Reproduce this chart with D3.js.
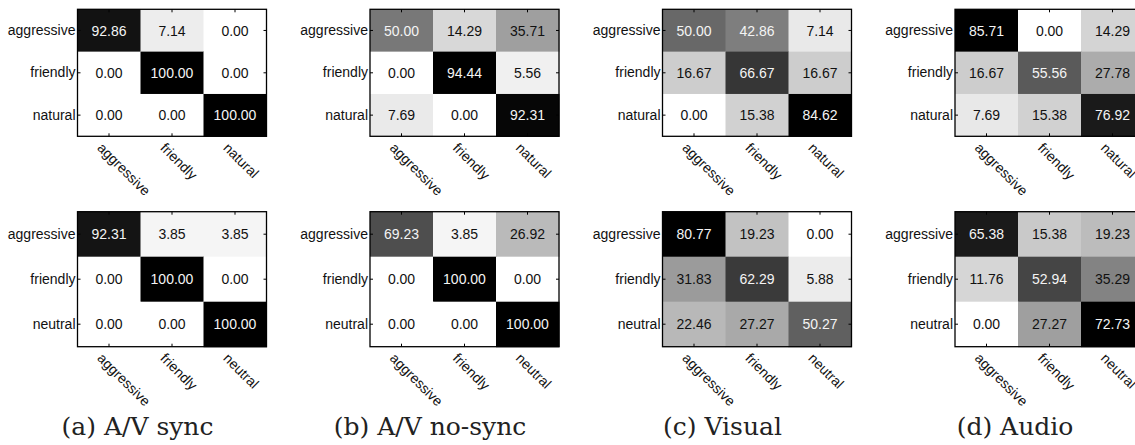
<!DOCTYPE html>
<html>
<head>
<meta charset="utf-8">
<script src="https://cdn.jsdelivr.net/npm/d3@7"></script>
<style>
html,body{margin:0;padding:0;background:#fff;}
svg{display:block;}
</style>
</head>
<body>
<svg id="chart" width="1135" height="445"></svg>
<script>
// ---- data ----
const topLabels = ["aggressive", "friendly", "natural"];
const bottomLabels = ["aggressive", "friendly", "neutral"];

const avSyncTop = [[92.86, 7.14, 0.00], [0.00, 100.00, 0.00], [0.00, 0.00, 100.00]];
const avSyncBottom = [[92.31, 3.85, 3.85], [0.00, 100.00, 0.00], [0.00, 0.00, 100.00]];
const avNoSyncTop = [[50.00, 14.29, 35.71], [0.00, 94.44, 5.56], [7.69, 0.00, 92.31]];
const avNoSyncBottom = [[69.23, 3.85, 26.92], [0.00, 100.00, 0.00], [0.00, 0.00, 100.00]];
const visualTop = [[50.00, 42.86, 7.14], [16.67, 66.67, 16.67], [0.00, 15.38, 84.62]];
const visualBottom = [[80.77, 19.23, 0.00], [31.83, 62.29, 5.88], [22.46, 27.27, 50.27]];
const audioTop = [[85.71, 0.00, 14.29], [16.67, 55.56, 27.78], [7.69, 15.38, 76.92]];
const audioBottom = [[65.38, 15.38, 19.23], [11.76, 52.94, 35.29], [0.00, 27.27, 72.73]];

const captions = ["(a) A/V sync", "(b) A/V no-sync", "(c) Visual", "(d) Audio"];
const topMatrices = [avSyncTop, avNoSyncTop, visualTop, audioTop];
const bottomMatrices = [avSyncBottom, avNoSyncBottom, visualBottom, audioBottom];

// ---- layout ----
const svg = d3.select("#chart");
const panelLeft = i => 77.5 + i * 292.5;
const boxW = 189;
const rowsLayout = [{y0: 9.3, h: 127}, {y0: 211.7, h: 135}];
const fontSans = "'Liberation Sans', Arial, Helvetica, sans-serif";

function drawMatrix(matrix, labels, left, top, w, h) {
  const g = svg.append("g");
  const x = d3.scaleBand().domain(labels).range([left, left + w]);
  const y = d3.scaleBand().domain(labels).range([top, top + h]);
  const maxV = d3.max(matrix.flat());
  const color = d3.scaleLinear().domain([0, maxV]).range(["#ffffff", "#000000"]);

  const cells = [];
  matrix.forEach((row, i) => row.forEach((v, j) => cells.push({r: labels[i], c: labels[j], v})));

  g.selectAll("rect.cell").data(cells).enter().append("rect")
    .attr("class", "cell")
    .attr("x", d => x(d.c)).attr("y", d => y(d.r))
    .attr("width", x.bandwidth() + 0.5).attr("height", y.bandwidth() + 0.5)
    .attr("fill", d => color(d.v));

  g.selectAll("text.val").data(cells).enter().append("text")
    .attr("class", "val")
    .attr("x", d => x(d.c) + x.bandwidth() / 2)
    .attr("y", d => y(d.r) + y.bandwidth() / 2)
    .attr("dy", "0.36em")
    .attr("text-anchor", "middle")
    .attr("font-family", fontSans).attr("font-size", 14)
    .attr("fill", d => d.v / maxV > 0.5 ? "#f4f4f4" : "#111")
    .text(d => d3.format(".2f")(d.v));

  // axes with inward ticks
  const axL = g.append("g").attr("transform", `translate(${left},0)`)
    .call(d3.axisLeft(y).tickSize(-3).tickPadding(2));
  axL.select(".domain").remove();
  axL.selectAll("text").attr("font-family", fontSans).attr("font-size", 14).attr("fill", "#111");

  const axR = g.append("g").attr("transform", `translate(${left + w},0)`)
    .call(d3.axisRight(y).tickSize(-3).tickFormat(""));
  axR.select(".domain").remove();

  const axT = g.append("g").attr("transform", `translate(0,${top})`)
    .call(d3.axisTop(x).tickSize(-3).tickFormat(""));
  axT.select(".domain").remove();

  const axB = g.append("g").attr("transform", `translate(0,${top + h})`)
    .call(d3.axisBottom(x).tickSize(-3));
  axB.select(".domain").remove();
  axB.selectAll("text")
    .attr("x", 0).attr("y", 0).attr("dy", "0.75em")
    .attr("text-anchor", "start")
    .attr("transform", "translate(-5,5) rotate(45)")
    .attr("font-family", fontSans).attr("font-size", 14).attr("fill", "#111");

  g.selectAll(".tick line").attr("stroke", "#000");

  g.append("rect")
    .attr("x", left).attr("y", top).attr("width", w).attr("height", h)
    .attr("fill", "none").attr("stroke", "#000").attr("stroke-width", 1.3);
}

topMatrices.forEach((m, i) => drawMatrix(m, topLabels, panelLeft(i), rowsLayout[0].y0, boxW, rowsLayout[0].h));
bottomMatrices.forEach((m, i) => drawMatrix(m, bottomLabels, panelLeft(i), rowsLayout[1].y0, boxW, rowsLayout[1].h));

svg.selectAll("text.caption").data(captions).enter().append("text")
  .attr("class", "caption")
  .attr("x", (d, i) => panelLeft(i) + 60)
  .attr("y", 435)
  .attr("text-anchor", "middle")
  .attr("font-family", "'DejaVu Serif', 'Liberation Serif', serif")
  .attr("font-size", 25)
  .attr("fill", "#222")
  .text(d => d);
</script>
</body>
</html>
